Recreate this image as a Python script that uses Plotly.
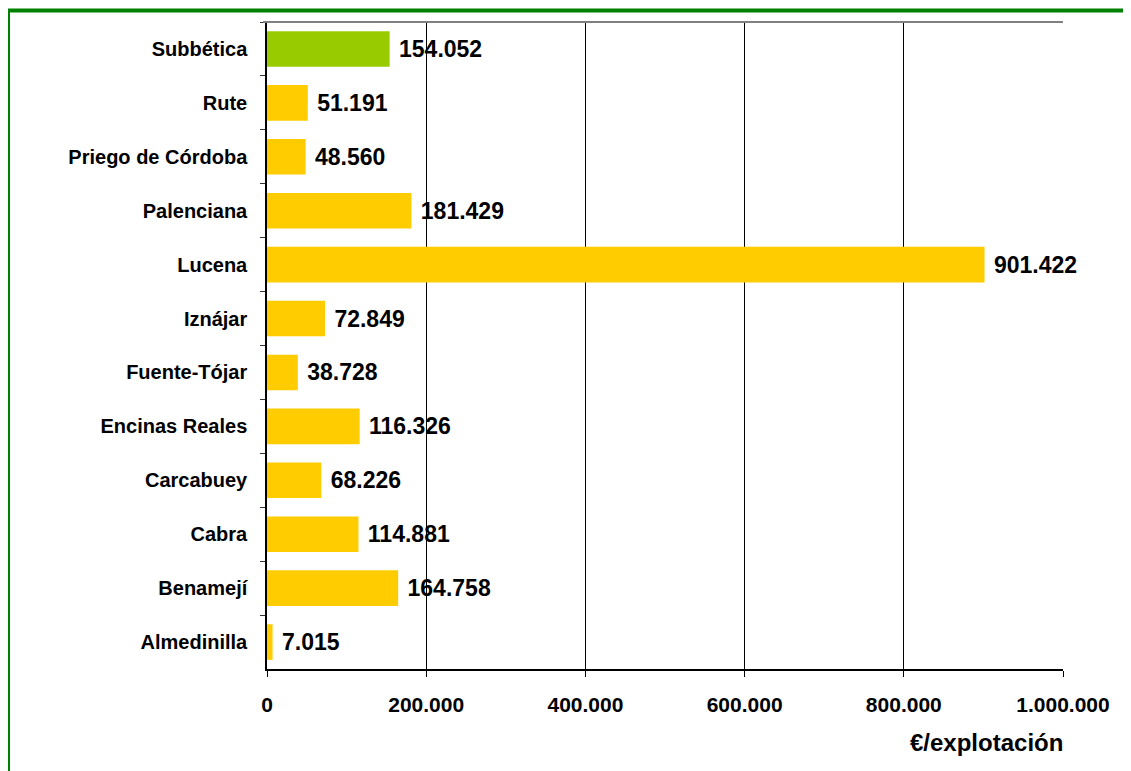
import plotly.graph_objects as go

categories = ["Subbética", "Rute", "Priego de Córdoba", "Palenciana", "Lucena", "Iznájar",
              "Fuente-Tójar", "Encinas Reales", "Carcabuey", "Cabra", "Benamejí", "Almedinilla"]
values = [154052, 51191, 48560, 181429, 901422, 72849, 38728, 116326, 68226, 114881, 164758, 7015]
bar_colors = ["#99CC00"] + ["#FFCC00"] * 11
tick_vals = [0, 200000, 400000, 600000, 800000, 1000000]
x_title = "€/explotación"

OFF = 8  # page body margin
W, H = 1131 - OFF, 771 - OFF
L, R, T, B = 267 - OFF, 68, 22 - OFF, 102
pw, ph = W - L - R, H - T - B
FONT = "Liberation Sans, Arial"

fig = go.Figure(go.Bar(
    y=categories, x=values, orientation="h",
    marker=dict(color=bar_colors, line=dict(width=0)),
    texttemplate=" %{x:,d}", textposition="outside", cliponaxis=False,
    textfont=dict(family=FONT, size=23, color="black", weight="bold"),
    hoverinfo="skip",
))

fig.update_layout(
    width=W, height=H, margin=dict(l=L, r=R, t=T, b=B, autoexpand=False),
    paper_bgcolor="white", plot_bgcolor="white",
    separators=",.", bargap=0.34, showlegend=False,
    font=dict(family=FONT, color="black"),
    xaxis=dict(range=[0, 1000000], tickvals=tick_vals, tickformat=",d",
               showgrid=True, gridcolor="black", gridwidth=1,
               showline=True, linecolor="black", linewidth=1.5,
               ticks="outside", ticklen=6, tickcolor="black", tickwidth=1,
               ticklabelstandoff=10,
               tickfont=dict(size=21, family=FONT, color="black", weight="bold"),
               zeroline=False, fixedrange=True),
    yaxis=dict(autorange="reversed", showline=True, linecolor="black", linewidth=1.5,
               ticks="outside", ticklen=5, tickcolor="#333333", tickson="boundaries",
               ticklabelstandoff=14,
               tickfont=dict(size=20, family=FONT, color="black", weight="bold"),
               showgrid=False, fixedrange=True),
    shapes=[
        dict(type="line", xref="paper", yref="paper", x0=-4 / pw, x1=1, y0=1, y1=1,
             line=dict(color="#808080", width=2)),
        dict(type="rect", xref="paper", yref="paper",
             x0=(8 - 267) / pw, x1=1.5, y0=-0.5, y1=1 + (22 - 10.5) / ph,
             line=dict(color="#008000", width=4), fillcolor="rgba(0,0,0,0)", layer="above"),
    ],
    annotations=[dict(text=x_title, xref="paper", yref="paper",
                      x=(986 - 267) / pw, y=-(742 - 669) / ph, showarrow=False,
                      xanchor="center", yanchor="middle",
                      font=dict(size=24, family=FONT, color="black", weight="bold"))],
)

fig.write_html("out.html")
